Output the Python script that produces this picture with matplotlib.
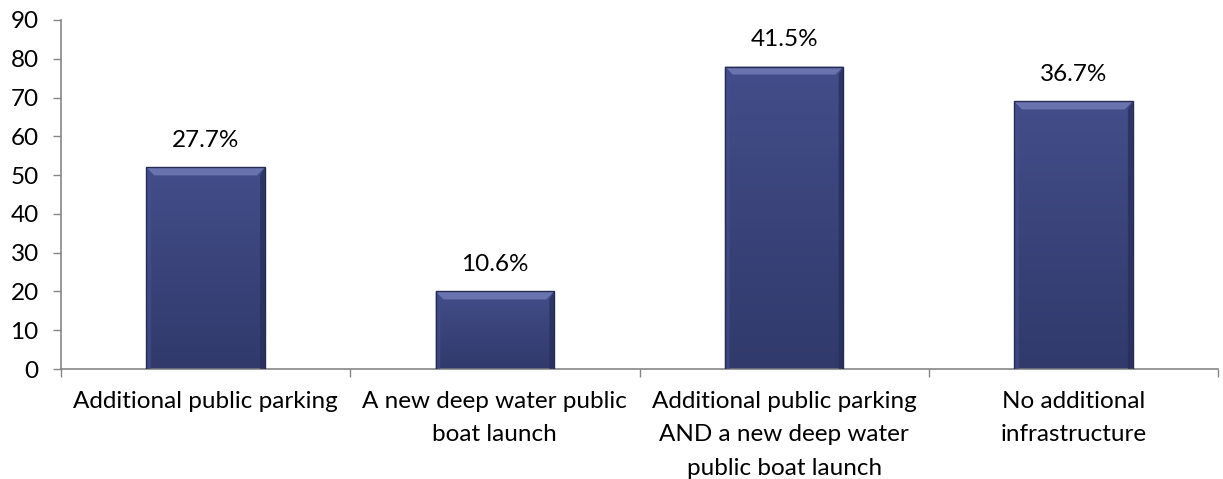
import numpy as np
import matplotlib
matplotlib.use("Agg")
import matplotlib.pyplot as plt
from matplotlib.patches import Polygon, Rectangle
from matplotlib.colors import LinearSegmentedColormap

categories = ["Additional public parking",
              "A new deep water public\nboat launch",
              "Additional public parking\nAND a new deep water\npublic boat launch",
              "No additional\ninfrastructure"]
counts = [52, 20, 78, 69]
pct_labels = ["27.7%", "10.6%", "41.5%", "36.7%"]
y_ticks = [0, 10, 20, 30, 40, 50, 60, 70, 80, 90]

plt.rcParams['font.family'] = ['Lato', 'DejaVu Sans']
FS = 17.5

fig = plt.figure(figsize=(12.23, 4.79), dpi=100)
ax = fig.add_axes([61/1223, 1-369/479, (1218-61)/1223, (369-20)/479])

x = np.arange(len(categories))
width = 0.41
ax.set_xlim(-0.5, len(categories) - 0.5)
ax.set_ylim(0, 90)

cmap = LinearSegmentedColormap.from_list("barg", ["#313a6b", "#434d89"])
grad = np.linspace(0, 1, 256).reshape(-1, 1)

bars = ax.bar(x, counts, width=width, color="none", edgecolor="none", zorder=2)
ppx_x = (len(categories)) / (1218 - 61)
ppx_y = 90 / (369 - 20)
bev_x = 8 * ppx_x
bev_y = 8 * ppx_y
for b in bars:
    x0, w, h = b.get_x(), b.get_width(), b.get_height()
    x1 = x0 + w
    im = ax.imshow(grad, cmap=cmap, aspect='auto', origin='lower',
                   extent=[x0, x1, 0, h], zorder=2, interpolation='bilinear')
    im.set_clip_path(b)
    ax.add_patch(Polygon([[x0, h], [x1, h], [x1 - bev_x, h - bev_y], [x0 + bev_x, h - bev_y]],
                         closed=True, facecolor="#6e78b2", edgecolor="none", alpha=0.9, zorder=3))
    ax.add_patch(Polygon([[x0, h], [x0 + bev_x * 0.6, h - bev_y], [x0 + bev_x * 0.6, 0], [x0, 0]],
                         closed=True, facecolor="#46508c", edgecolor="none", alpha=0.6, zorder=3))
    ax.add_patch(Polygon([[x1, h], [x1 - bev_x * 0.6, h - bev_y], [x1 - bev_x * 0.6, 0], [x1, 0]],
                         closed=True, facecolor="#262d58", edgecolor="none", alpha=0.7, zorder=3))
    ax.add_patch(Rectangle((x0, 0), w, h, facecolor="none", edgecolor="#252b52",
                           linewidth=1.0, zorder=4))

for xi, c, lab in zip(x, counts, pct_labels):
    ax.annotate(lab, (xi, c), xytext=(0, 12), textcoords="offset points",
                ha="center", va="bottom", fontsize=FS, color="#000000", zorder=5)

ax.set_yticks(y_ticks)
ax.set_yticklabels([str(v) for v in y_ticks], fontsize=FS)
ax.set_xticks(x)
ax.set_xticklabels(categories, fontsize=FS, linespacing=1.72)
ax.set_xticks(np.arange(-0.5, len(categories)), minor=True)
ax.tick_params(axis='x', which='major', length=0, pad=16)
ax.tick_params(axis='x', which='minor', length=6, width=1, color="#868686", direction='out')
ax.tick_params(axis='y', length=6, width=1, color="#868686", direction='out', pad=10)

for s in ["top", "right"]:
    ax.spines[s].set_visible(False)
for s in ["left", "bottom"]:
    ax.spines[s].set_color("#868686")
    ax.spines[s].set_linewidth(1.2)

fig.savefig("out.png", dpi=100)
